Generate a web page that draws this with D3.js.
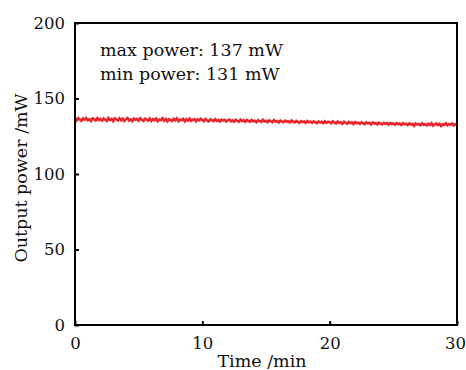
<!DOCTYPE html>
<html>
<head>
<meta charset="utf-8">
<script src="https://cdn.jsdelivr.net/npm/d3@7"></script>
<style>
  body { margin: 0; background: #fff; }
  text { font-family: "DejaVu Serif", serif; }
</style>
</head>
<body>
<div id="chart"></div>
<script>
// tick labels
var xTicks = [0, 10, 20, 30];
var yTicks = [0, 50, 100, 150, 200];

// one reading every 0.125 min, 0..30 min
var sampleStep = 0.125;

// output power (mW)
var powerMW = [
  136.9,135.4,137.0,136.1,135.2,136.8,135.9,137.1,135.6,136.3,
  135.1,136.9,136.2,135.5,137.0,135.8,136.5,135.3,136.7,136.0,
  135.2,137.0,135.7,136.4,135.0,136.8,136.1,135.4,136.9,135.6,
  136.6,135.1,136.3,137.0,135.5,136.2,135.0,136.7,135.9,136.5,
  135.3,136.9,135.8,135.1,136.6,136.0,135.4,136.8,135.2,136.3,
  135.7,136.7,135.0,136.1,135.6,136.9,135.3,136.4,134.9,136.2,
  135.8,135.1,136.6,135.5,136.8,135.0,136.0,135.6,136.5,134.9,
  136.3,135.4,136.7,135.2,135.9,136.4,134.9,136.1,135.5,136.6,
  135.8,
  135.0,136.4,135.3,134.8,136.2,135.6,135.0,136.3,135.1,135.8,
  134.7,136.0,135.4,135.9,134.8,135.6,136.1,134.9,135.5,134.6,
  135.9,135.2,134.7,136.0,135.0,135.6,134.5,135.8,135.1,134.6,
  135.7,134.9,135.3,134.4,135.6,135.0,134.5,135.9,134.8,135.2,
  134.3,135.5,134.9,134.4,135.7,134.6,135.1,134.2,135.4,134.8,
  134.3,135.3,134.6,135.0,134.1,135.4,134.7,134.2,135.2,134.5,
  133.9,135.0,134.4,134.8,133.8,135.1,134.3,134.7,133.9,134.9,
  134.2,133.7,134.8,134.1,134.6,133.7,134.9,134.0,134.5,134.4,
  133.6,134.9,134.0,133.5,134.7,133.8,134.3,133.3,134.6,133.9,
  133.4,134.5,133.7,134.2,133.1,134.4,133.6,134.0,133.2,134.3,
  133.5,133.0,134.2,133.6,133.9,132.9,134.1,133.4,133.8,132.8,
  134.0,133.3,132.9,133.9,133.2,133.7,132.7,133.8,133.1,133.5,
  132.6,133.7,133.0,133.4,132.5,133.6,132.9,133.3,132.4,133.5,
  132.8,133.2,131.9,133.4,132.7,133.1,132.3,133.5,132.6,133.0,
  132.2,133.3,132.5,133.6,132.1,132.9,133.4,132.4,133.2,131.8,
  133.0,132.6,133.5,132.3,133.1,132.7,133.4,132.2,133.0,133.2
];

var notes = ["max power: 137 mW", "min power: 131 mW"];

var svgWidth = 466;
var svgHeight = 370;

var margin = {
    top: 23,
    right: 9,
    bottom: 45,
    left: 75
};

var width = svgWidth - margin.left - margin.right;
var height = svgHeight - margin.top - margin.bottom;

var svg = d3.select("#chart")
    .append("svg")
    .attr("width", svgWidth)
    .attr("height", svgHeight);

var chartGroup = svg.append("g")
    .attr("transform", `translate(${margin.left}, ${margin.top})`);

var xScale = d3.scaleLinear()
    .domain([0, 30])
    .range([0, width]);

var yScale = d3.scaleLinear()
    .domain([0, 200])
    .range([height, 0]);

// line
var data = powerMW.map((p, i) => ({t: i * sampleStep, p: p}));

var line = d3.line()
    .x(d => xScale(d.t))
    .y(d => yScale(d.p));

chartGroup.append("path")
    .datum(data)
    .attr("d", line)
    .attr("fill", "none")
    .attr("stroke", "#e6262b")
    .attr("stroke-width", 2.6);

// axes, ticks inward
var bottomAxis = d3.axisBottom(xScale)
    .tickValues(xTicks)
    .tickSizeInner(-4)
    .tickSizeOuter(0)
    .tickPadding(10);

var leftAxis = d3.axisLeft(yScale)
    .tickValues(yTicks)
    .tickSizeInner(-4)
    .tickSizeOuter(0)
    .tickPadding(10);

var xAxis = chartGroup.append("g")
    .attr("transform", `translate(0, ${height})`)
    .call(bottomAxis);

var yAxis = chartGroup.append("g")
    .call(leftAxis);

[xAxis, yAxis].forEach(function(ax) {
    ax.select(".domain").remove();
    ax.selectAll(".tick line").attr("stroke", "#000").attr("stroke-width", 2);
    ax.selectAll(".tick text")
        .attr("fill", "#111")
        .style("font-size", "16.5px");
});

xAxis.selectAll(".tick text").attr("dy", "0.85em");
// keep the last label inside the window
xAxis.selectAll(".tick text").filter(d => d === 30).attr("dx", "-2px");

// frame
chartGroup.append("rect")
    .attr("x", 0)
    .attr("y", 0)
    .attr("width", width)
    .attr("height", height)
    .attr("fill", "none")
    .attr("stroke", "#000")
    .attr("stroke-width", 2);

// axis labels
chartGroup.append("text")
    .attr("x", width / 2 - 4)
    .attr("y", height + 42)
    .attr("text-anchor", "middle")
    .style("font-size", "17.5px")
    .attr("fill", "#111")
    .text("Time /min");

chartGroup.append("text")
    .attr("transform", "rotate(-90)")
    .attr("x", -height / 2 - 4)
    .attr("y", -margin.left + 27)
    .attr("text-anchor", "middle")
    .style("font-size", "17.5px")
    .attr("fill", "#111")
    .text("Output power /mW");

// notes
chartGroup.selectAll(".note")
    .data(notes)
    .enter()
    .append("text")
    .attr("class", "note")
    .attr("x", 25)
    .attr("y", (d, i) => 33 + i * 24)
    .style("font-size", "17.5px")
    .attr("fill", "#111")
    .text(d => d);
</script>
</body>
</html>
